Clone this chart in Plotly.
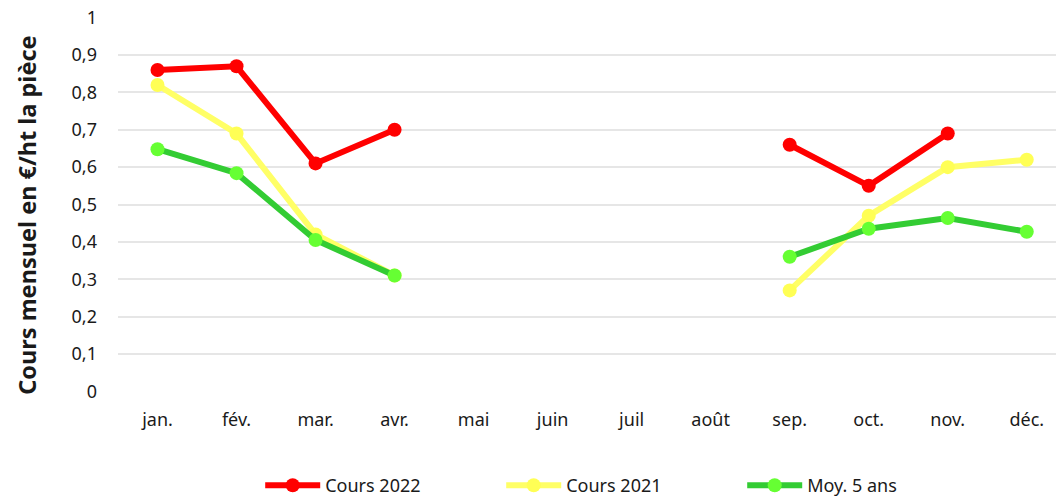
import plotly.graph_objects as go

months = ["jan.", "fév.", "mar.", "avr.", "mai", "juin", "juil", "août", "sep.", "oct.", "nov.", "déc."]
cours_2022 = [0.86, 0.87, 0.61, 0.70, None, None, None, None, 0.66, 0.55, 0.69, None]
cours_2021 = [0.82, 0.69, 0.42, 0.31, None, None, None, None, 0.27, 0.47, 0.60, 0.62]
moy_5_ans = [0.648, 0.584, 0.405, 0.31, None, None, None, None, 0.36, 0.435, 0.464, 0.427]
y_ticks = [0, 0.1, 0.2, 0.3, 0.4, 0.5, 0.6, 0.7, 0.8, 0.9, 1]
y_labels = ["0", "0,1", "0,2", "0,3", "0,4", "0,5", "0,6", "0,7", "0,8", "0,9", "1"]

FONT = "Noto Sans"
fig = go.Figure()
series = [
    ("Cours 2022", cours_2022, "#ff0000", "#ff0000"),
    ("Cours 2021", cours_2021, "#ffff66", "#ffff55"),
    ("Moy. 5 ans", moy_5_ans, "#33cc33", "#66ff33"),
]
x_idx = list(range(len(months)))
for name, vals, lc, mc in series:
    fig.add_trace(go.Scatter(
        x=x_idx, y=vals, name=name, mode="lines+markers",
        line=dict(color=lc, width=6),
        marker=dict(color=mc, size=14),
        connectgaps=False,
    ))

fig.add_annotation(
    text="<b>Cours mensuel en €/ht la pièce</b>", textangle=-90,
    xref="paper", yref="paper", x=-0.097, y=0.47, xanchor="center", yanchor="middle",
    showarrow=False, font=dict(family=FONT, size=23.5, color="#1a1a1a"),
)

fig.update_layout(
    width=1056, height=497,
    margin=dict(l=118, r=0, t=17, b=105, autoexpand=False),
    plot_bgcolor="white", paper_bgcolor="white",
    font=dict(family=FONT, size=18, color="#1a1a1a"),
    showlegend=True,
    legend=dict(orientation="h", x=0.537, xanchor="center", y=-0.2, yanchor="top",
                font=dict(family=FONT, size=18, color="#1a1a1a"),
                entrywidth=171, entrywidthmode="pixels", itemwidth=55),
    xaxis=dict(range=[-0.5, 11.37], tickmode="array", tickvals=x_idx, ticktext=months,
               showgrid=False, zeroline=False, showline=False, ticks="",
               ticklabelstandoff=15, tickfont=dict(size=18), automargin=False),
    yaxis=dict(range=[-0.002, 1.002], tickmode="array", tickvals=y_ticks, ticktext=y_labels,
               showgrid=True, gridcolor="#e6e6e6", gridwidth=1.5, zeroline=False,
               showline=False, ticks="", ticklabelstandoff=20, tickfont=dict(size=18),
               ticklabeloverflow="allow", automargin=False),
)
fig.write_html("out.html", config={"displayModeBar": False},
               post_script="document.body.style.margin='0px';")
